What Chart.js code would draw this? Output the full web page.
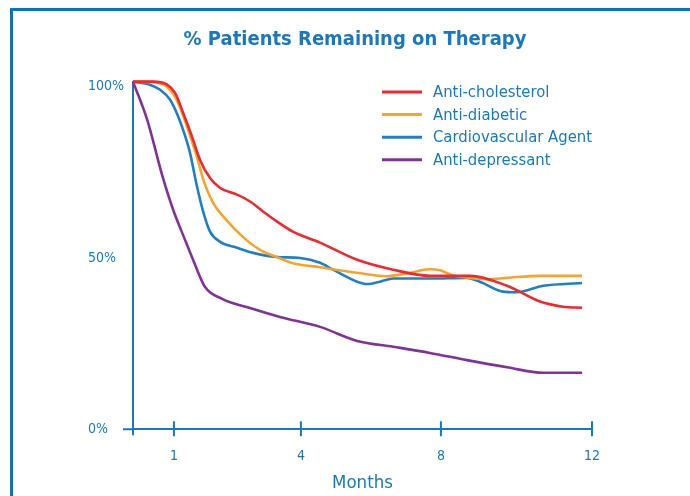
<!DOCTYPE html>
<html>
<head>
<meta charset="utf-8">
<script src="https://cdn.jsdelivr.net/npm/chart.js@4"></script>
<style>
  body { margin: 0; background: #fff; overflow: hidden; }
  #wrap { position: relative; width: 690px; height: 496px; overflow: hidden; }
  #frame { position: absolute; left: 10px; top: 8px; width: 2000px; height: 2000px;
           border-left: 3px solid #0b72c1; border-top: 3px solid #0b72c1; pointer-events: none; }
</style>
</head>
<body>
<div id="wrap">
  <canvas id="myChart"></canvas>
  <div id="frame"></div>
</div>
<script>
// % patients remaining on therapy
// x = position on the months axis, y = percent

const seriesNames = ["Anti-cholesterol", "Anti-diabetic", "Cardiovascular Agent", "Anti-depressant"];
const seriesColors = ["#ee2a2e", "#f7a42c", "#1f7fc7", "#7f3396"];

const cholesterolX = [0, 0.52, 0.89, 1.10, 1.31, 1.54, 1.75, 2.01, 2.27, 2.72, 3.06, 3.40, 3.76, 4.18, 4.89, 5.86, 6.80, 7.76, 8.81, 9.78, 10.64, 11.24, 11.74];
const cholesterolY = [101.5, 101.5, 100.6, 98.2, 92.4, 85.5, 78.7, 73.4, 70.5, 68.5, 66.5, 63.6, 60.7, 57.7, 54.5, 49.5, 46.6, 44.8, 44.8, 41.9, 37.3, 35.8, 35.5];

const diabeticX = [0, 0.63, 0.97, 1.18, 1.41, 1.67, 1.84, 2.10, 2.45, 2.88, 3.32, 3.76, 4.18, 4.89, 5.86, 6.64, 7.16, 7.76, 8.03, 8.37, 8.81, 9.25, 9.78, 10.64, 11.74];
const diabeticY = [101.5, 101.2, 99.1, 95.3, 88.4, 79.6, 72.8, 66.0, 61.0, 56.1, 52.4, 50.3, 48.5, 47.3, 45.7, 44.7, 45.5, 46.7, 46.4, 44.9, 44.2, 43.8, 44.2, 44.8, 44.8];

const cardioX = [0, 0.44, 0.71, 0.97, 1.14, 1.31, 1.49, 1.67, 1.84, 2.01, 2.27, 2.72, 3.14, 3.76, 4.37, 4.89, 5.23, 5.86, 6.12, 6.46, 6.80, 7.76, 8.73, 9.07, 9.67, 10.04, 10.72, 11.74];
const cardioY = [101.5, 100.6, 99.1, 96.2, 92.4, 87.4, 80.7, 71.0, 63.3, 57.8, 54.8, 53.0, 51.5, 50.3, 50.0, 48.6, 46.6, 43.1, 42.4, 43.1, 44.0, 44.0, 44.2, 43.1, 40.2, 40.0, 41.9, 42.7];

const depressantX = [0, 0.37, 0.76, 1.05, 1.36, 1.57, 1.88, 2.33, 3.06, 3.84, 4.89, 5.86, 6.80, 7.76, 8.73, 9.78, 10.72, 11.74];
const depressantY = [101.5, 90.4, 74.3, 64.1, 55.3, 49.5, 41.6, 38.1, 35.4, 32.8, 29.9, 25.8, 24.1, 22.3, 20.2, 18.1, 16.5, 16.5];

// ticks as drawn on the axes
const xTickValues = [1.07, 4.39, 8.05, 12];
const xTickLabels = ["1", "4", "8", "12"];
const yTickValues = [0, 50, 100];
const yTickLabels = ["0%", "50%", "100%"];

const blue = "#1a78c2";
const narrow = "'Liberation Sans Narrow', 'DejaVu Sans Condensed', 'Liberation Sans', sans-serif";

function toPoints(xs, ys) {
  let pts = [];
  for (let i = 0; i < xs.length; i++) {
    pts.push({ x: xs[i], y: ys[i] });
  }
  return pts;
}

const allX = [cholesterolX, diabeticX, cardioX, depressantX];
const allY = [cholesterolY, diabeticY, cardioY, depressantY];

let datasets = [];
for (let i = 0; i < seriesNames.length; i++) {
  datasets.push({
    label: seriesNames[i],
    data: toPoints(allX[i], allY[i]),
    borderColor: seriesColors[i],
    backgroundColor: seriesColors[i],
    borderWidth: 2.6,
    pointRadius: 0,
    cubicInterpolationMode: 'monotone',
    fill: false,
    clip: false
  });
}

// axis tick marks that cross the axis lines + small axis overhangs
const axisMarks = {
  id: 'axisMarks',
  afterDraw(chart) {
    const ctx = chart.ctx;
    const x = chart.scales.x, y = chart.scales.y;
    const x0 = x.getPixelForValue(0), y0 = y.getPixelForValue(0);
    ctx.save();
    ctx.strokeStyle = blue;
    ctx.lineWidth = 2;
    ctx.beginPath();
    ctx.moveTo(x0 - 10, y0); ctx.lineTo(x0, y0);
    ctx.moveTo(x0, y0); ctx.lineTo(x0, y0 + 6);
    xTickValues.forEach(function (v) {
      const px = x.getPixelForValue(v);
      ctx.moveTo(px, y0 - 8); ctx.lineTo(px, y0 + 7);
    });
    ctx.stroke();
    ctx.restore();
  }
};

// legend drawn inside the plot
const insideLegend = {
  id: 'insideLegend',
  afterDraw(chart, args, opts) {
    const ctx = chart.ctx;
    ctx.save();
    ctx.font = opts.fontSize + "px " + narrow;
    ctx.textBaseline = 'middle';
    ctx.textAlign = 'left';
    chart.data.datasets.forEach(function (ds, i) {
      const yy = opts.top + i * opts.rowHeight;
      ctx.strokeStyle = ds.borderColor;
      ctx.lineWidth = 3;
      ctx.beginPath();
      ctx.moveTo(opts.left, yy);
      ctx.lineTo(opts.left + opts.lineLength, yy);
      ctx.stroke();
      ctx.fillStyle = blue;
      ctx.fillText(ds.label, opts.left + opts.lineLength + 11, yy + 1);
    });
    ctx.restore();
  }
};

new Chart(document.getElementById('myChart'), {
  type: 'line',
  data: { datasets: datasets },
  plugins: [axisMarks, insideLegend],
  options: {
    responsive: true,
    maintainAspectRatio: false,
    animation: false,
    layout: { padding: { left: 88, right: 68, top: 0, bottom: 0 } },
    plugins: {
      legend: { display: false },
      tooltip: { enabled: false },
      title: {
        display: true,
        text: '% Patients Remaining on Therapy',
        color: blue,
        font: { family: narrow, size: 20, weight: 'bold' },
        padding: { top: 28, bottom: 29.6 }
      },
      insideLegend: { left: 382, top: 92, rowHeight: 22.6, lineLength: 40, fontSize: 16.5 }
    },
    scales: {
      x: {
        type: 'linear',
        min: 0,
        max: 12,
        afterBuildTicks: function (s) {
          s.ticks = xTickValues.map(function (v) { return { value: v }; });
        },
        afterFit: function (s) { s.height = 66.7; },
        ticks: {
          color: blue,
          font: { family: narrow, size: 14 },
          padding: 19,
          maxRotation: 0,
          autoSkip: false,
          callback: function (v, i) { return xTickLabels[i]; }
        },
        grid: { display: false, drawTicks: false },
        border: { display: true, color: blue, width: 2 },
        title: {
          display: true,
          text: 'Months',
          color: blue,
          font: { family: narrow, size: 18.5 },
          padding: { top: 4, bottom: 2 }
        }
      },
      y: {
        min: 0,
        max: 101.5,
        afterBuildTicks: function (s) {
          s.ticks = yTickValues.map(function (v) { return { value: v }; });
        },
        afterFit: function (s) { s.width = 45; },
        ticks: {
          color: blue,
          font: { family: narrow, size: 14 },
          crossAlign: 'far',
          callback: function (v, i) { return yTickLabels[i]; }
        },
        grid: { display: false, drawTicks: false },
        border: { display: true, color: blue, width: 2 }
      },
      yRight: {
        position: 'right',
        display: true,
        afterFit: function (s) { s.width = 30; },
        ticks: { display: false },
        grid: { display: false, drawTicks: false },
        border: { display: false }
      }
    }
  }
});
</script>
</body>
</html>
